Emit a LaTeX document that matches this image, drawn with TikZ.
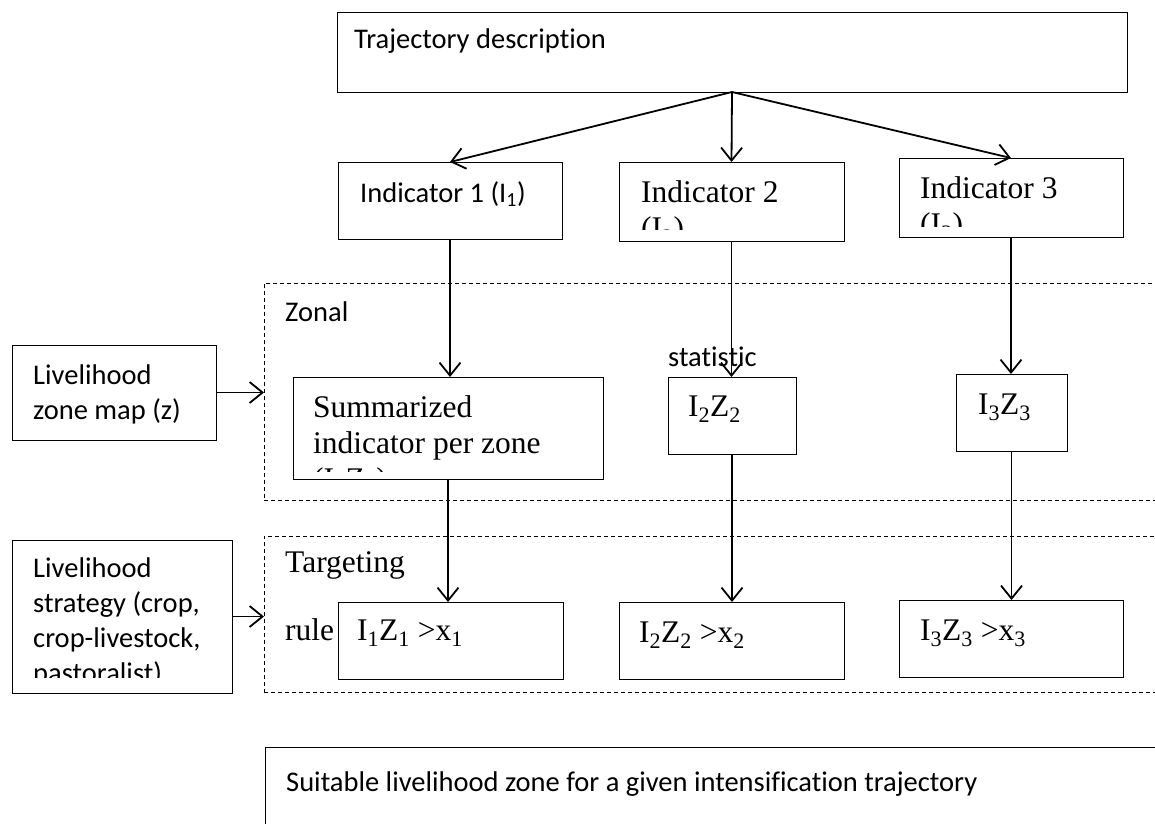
\documentclass[tikz,border=0pt]{standalone}
\usepackage{fontspec}
\setmainfont[Ligatures={NoCommon}]{Liberation Serif}
\newfontfamily\calibfont[Ligatures={NoCommon}]{Carlito}
\usetikzlibrary{arrows.meta,fit}
\tikzset{
  box/.style={draw, line width=1pt, inner sep=0pt, outer sep=0pt, fit={#1}},
  zone/.style={draw, line width=1pt, dash pattern=on 4pt off 3pt, inner sep=0pt, outer sep=0pt, fit={#1}},
  cal/.style={font=\calibfont\fontsize{28.5pt}{35pt}\selectfont, inner sep=0pt, anchor=base west},
  tms/.style={font=\fontsize{31.5pt}{36pt}\selectfont, inner sep=0pt, anchor=base west},
  arr/.style={line width=1.8pt, -{Straight Barb[length=13pt,width=21pt]}},
}
\begin{document}
\begin{tikzpicture}[x=1pt,y=-1pt]
\clip (0,0) rectangle (1155,823);
\fill[white] (0,0) rectangle (1155,823);

% top
\node[box={(337,12)(1127,92)}] (traj) {};
\node[cal] (trajtxt) at (354,48) {Trajectory description};

% indicators
\node[box={(338,162)(562,239)}] (ind1) {};
\node[cal] (ind1txt) at (360,202) {Indicator 1 (I\textsubscript{1})};
\node[box={(619,162)(844,241)}] (ind2) {};
\node[tms] (ind2txt) at (641,202) {Indicator 2};
\begin{scope}
  \clip (619,162) rectangle (844,229);
  \node[tms] (ind2sub) at (641,238) {(I\textsubscript{2})};
\end{scope}
\node[box={(899,158)(1123,237)}] (ind3) {};
\node[tms] (ind3txt) at (920,198) {Indicator 3};
\begin{scope}
  \clip (899,158) rectangle (1123,226);
  \node[tms] (ind3sub) at (920,234) {(I\textsubscript{3})};
\end{scope}

% zonal statistic area
\node[zone={(264,283)(1170,500)}] (zonal) {};
\node[cal] (zonaltxt) at (285,321) {Zonal};
\node[cal] (stattxt) at (668,366) {statistic};

\node[box={(12,345)(216,440)}] (zonemap) {};
\node[cal] (zm1) at (33,384) {Livelihood};
\node[cal] (zm2) at (33,419) {zone map (z)};

\node[box={(293,377)(603,479)}] (summ) {};
\node[tms] (summ1) at (313,417) {Summarized};
\node[tms] (summ2) at (313,453) {indicator per zone};
\begin{scope}
  \clip (293,377) rectangle (603,471);
  \node[tms] (summ3) at (313,489) {(I\textsubscript{1}Z\textsubscript{1})};
\end{scope}

\node[box={(668,377)(796,454)}] (iz2) {};
\node[tms] (iz2txt) at (688,416) {I\textsubscript{2}Z\textsubscript{2}};
\node[box={(956,374)(1067,451)}] (iz3) {};
\node[tms] (iz3txt) at (978,414) {I\textsubscript{3}Z\textsubscript{3}};

% targeting rule area
\node[zone={(264,536)(1170,692)}] (target) {};
\node[tms] (targtxt) at (285,572) {Targeting};
\node[tms] (ruletxt) at (285,640) {rule};

\node[box={(12,540)(232,693)}] (strat) {};
\node[cal] (st1) at (33,577) {Livelihood};
\node[cal] (st2) at (33,612) {strategy (crop,};
\node[cal] (st3) at (33,647) {crop-livestock,};
\begin{scope}
  \clip (12,540) rectangle (232,677);
  \node[cal] (st4) at (33,682) {pastoralist)};
\end{scope}

\node[box={(338,602)(563,679)}] (r1) {};
\node[tms] (r1txt) at (357,640) {I\textsubscript{1}Z\textsubscript{1} >x\textsubscript{1}};
\node[box={(619,602)(844,679)}] (r2) {};
\node[tms] (r2txt) at (639,642) {I\textsubscript{2}Z\textsubscript{2} >x\textsubscript{2}};
\node[box={(899,600)(1123,677)}] (r3) {};
\node[tms] (r3txt) at (920,640) {I\textsubscript{3}Z\textsubscript{3} >x\textsubscript{3}};

% result
\node[box={(265,747)(1170,840)}] (suit) {};
\node[cal] (suittxt) at (286,791) {Suitable livelihood zone for a given intensification trajectory};

% connectors
\draw[arr] (traj.south) -- (ind1.north);
\draw[arr] (traj.south) -- (ind2.north);
\draw[arr] (traj.south) -- (ind3.north);
\draw[arr] (ind1.south) -- (ind1.south |- summ.north);
\draw[arr] (ind2.south) -- (ind2.south |- iz2.north);
\draw[arr] (ind3.south) -- (ind3.south |- iz3.north);
\draw[arr] (summ.south) -- (summ.south |- r1.north);
\draw[arr] (iz2.south) -- (iz2.south |- r2.north);
\draw[arr] (iz3.south) -- (iz3.south |- r3.north);
\draw[arr] (zonemap.east) -- (zonemap.east -| zonal.west);
\draw[arr] (strat.east) -- (strat.east -| target.west);
\end{tikzpicture}
\end{document}
